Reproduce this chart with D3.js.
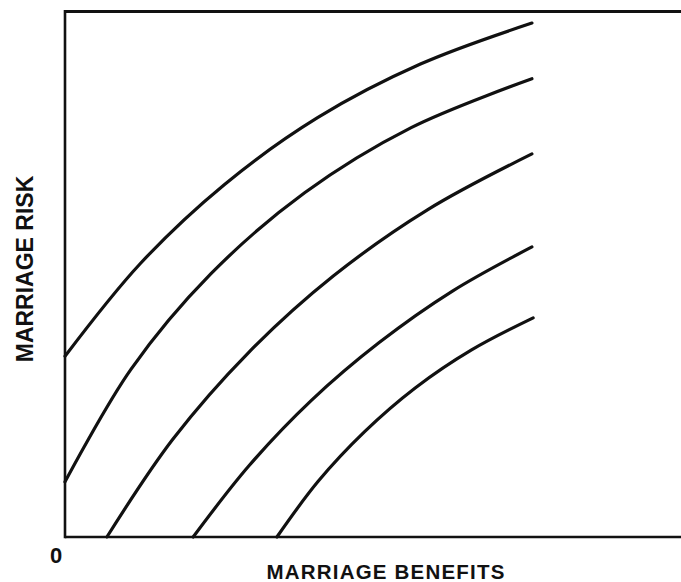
<!DOCTYPE html>
<html>
<head>
<meta charset="utf-8">
<script src="https://cdn.jsdelivr.net/npm/d3@7"></script>
<style>
	body { margin: 0; background: #fff; }
	text { font-family: "Liberation Sans", Arial, sans-serif; font-weight: bold; fill: #111; }
</style>
</head>
<body>
<svg id="chart" width="681" height="582"></svg>
<script>
// curves, benefits (x) vs risk (y), both on a 0-100 scale
var curve1 = [[0, 34.4], [12.2, 52.0], [25.9, 67.1], [41.0, 79.8], [57.7, 90.0], [75.8, 97.8]];
var curve2 = [[0, 10.5], [10.7, 31.9], [23.7, 50.1], [38.9, 65.5], [56.2, 77.9], [75.8, 87.2]];
var curve3 = [[6.8, 0], [17.5, 18.6], [29.8, 35.1], [43.6, 49.7], [58.9, 62.3], [75.8, 72.9]];
var curve4 = [[20.8, 0], [29.9, 13.6], [40.0, 26.0], [51.0, 37.0], [62.9, 46.8], [75.8, 55.2]];
var curve5 = [[34.4, 0], [41.1, 10.6], [48.6, 20.0], [56.9, 28.4], [66.0, 35.6], [76.0, 41.7]];

var xLabel = "MARRIAGE BENEFITS";
var yLabel = "MARRIAGE RISK";
var originLabel = "0";

var svg = d3.select("#chart");

var x = d3.scaleLinear().domain([0, 100]).range([65, 681]);
var y = d3.scaleLinear().domain([0, 100]).range([537, 11.5]);

// frame: left, top and bottom, no right edge
svg.append("line")
	.attr("x1", x(0)).attr("x2", x(100))
	.attr("y1", y(100)).attr("y2", y(100))
	.attr("stroke", "#111").attr("stroke-width", 2.8);

svg.append("line")
	.attr("x1", x(0)).attr("x2", x(100))
	.attr("y1", y(0)).attr("y2", y(0))
	.attr("stroke", "#111").attr("stroke-width", 2.4);

svg.append("line")
	.attr("x1", x(0)).attr("x2", x(0))
	.attr("y1", y(100) - 1.4).attr("y2", y(0) + 1.2)
	.attr("stroke", "#111").attr("stroke-width", 2.6);

var line = d3.line()
	.x(function (d) { return x(d[0]); })
	.y(function (d) { return y(d[1]); })
	.curve(d3.curveCatmullRom.alpha(0.5));

svg.selectAll("path.curve")
	.data([curve1, curve2, curve3, curve4, curve5])
	.enter()
	.append("path")
	.attr("class", "curve")
	.attr("d", line)
	.attr("fill", "none")
	.attr("stroke", "#111")
	.attr("stroke-width", 3.2)
	.attr("stroke-linecap", "round");

svg.append("text")
	.attr("x", 56).attr("y", 563)
	.attr("text-anchor", "middle")
	.style("font-size", "22px")
	.text(originLabel);

svg.append("text")
	.attr("x", 386).attr("y", 579)
	.attr("text-anchor", "middle")
	.style("font-size", "20.5px")
	.style("letter-spacing", "1.2px")
	.text(xLabel);

svg.append("text")
	.attr("transform", "translate(33,269) rotate(-90)")
	.attr("text-anchor", "middle")
	.style("font-size", "23px")
	.text(yLabel);
</script>
</body>
</html>
